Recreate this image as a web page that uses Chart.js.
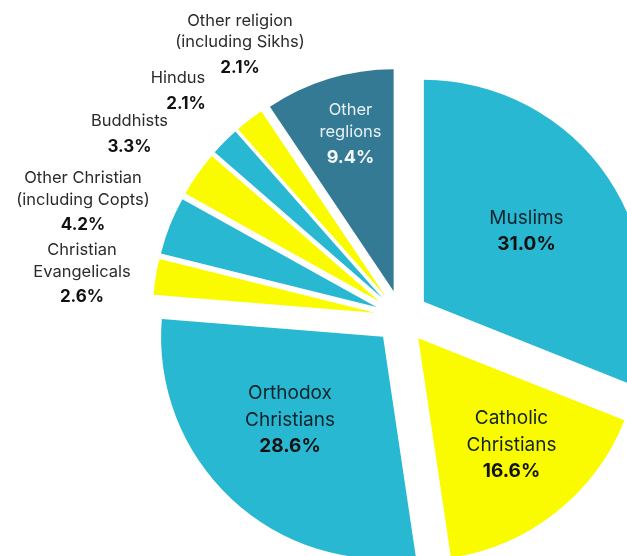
<!DOCTYPE html>
<html>
<head>
<meta charset="utf-8">
<script src="https://cdn.jsdelivr.net/npm/chart.js@4.4.1/dist/chart.umd.min.js"></script>
<style>
  html, body { margin: 0; padding: 0; background: #ffffff; }
  #frame { position: relative; width: 627px; height: 556px; overflow: hidden; }
  #pie { position: absolute; left: 0; top: 0; }
</style>
</head>
<body>
<div id="frame"><canvas id="pie" width="803" height="634"></canvas></div>
<script>
// Religious affiliation shares, clockwise from 12 o'clock
const categories = [
  'Muslims',
  'Catholic Christians',
  'Orthodox Christians',
  'Christian Evangelicals',
  'Other Christian (including Copts)',
  'Buddhists',
  'Hindus',
  'Other religion (including Sikhs)',
  'Other reglions'
];
const shares = [31.0, 16.6, 28.6, 2.6, 4.2, 3.3, 2.1, 2.1, 9.4];

// Text shown on each slice label, line by line
const labelLines = [
  ['Muslims'],
  ['Catholic', 'Christians'],
  ['Orthodox', 'Christians'],
  ['Christian', 'Evangelicals'],
  ['Other Christian', '(including Copts)'],
  ['Buddhists'],
  ['Hindus'],
  ['Other religion', '(including Sikhs)'],
  ['Other', 'reglions']
];

const CYAN = '#29b8d2';
const YELLOW = '#fbfb00';
const TEAL = '#357a95';
const sliceColors = [CYAN, YELLOW, CYAN, YELLOW, CYAN, YELLOW, CYAN, YELLOW, TEAL];

// Distance each wedge is pushed out from the centre
const EXPLODE = 27;

// Label placement relative to the pie centre: first baseline, then line gaps
const labelStyle = [
  { dx: 125,    dy: -92.7, inside: true },
  { dx: 110,    dy: 107,   inside: true },
  { dx: -111.5, dy: 82,    inside: true },
  { dx: -319.5, dy: -62 },
  { dx: -318.5, dy: -133.7 },
  { dx: -272,   dy: -191 },
  { dx: -223.5, dy: -233.7, pctDx: 8 },
  { dx: -161.5, dy: -291.5 },
  { dx: -51,    dy: -202,  small: true, light: true }
];

const FONT = 'Inter, "Liberation Sans", sans-serif';

const explodePlugin = {
  id: 'explodeSlices',
  afterDatasetUpdate(chart, args) {
    args.meta.data.forEach(arc => {
      const mid = (arc.startAngle + arc.endAngle) / 2;
      arc.x += Math.cos(mid) * EXPLODE;
      arc.y += Math.sin(mid) * EXPLODE;
    });
  }
};

const labelPlugin = {
  id: 'sliceLabels',
  afterDatasetsDraw(chart) {
    const ctx = chart.ctx;
    const area = chart.chartArea;
    const cx = (area.left + area.right) / 2;
    const cy = (area.top + area.bottom) / 2;
    ctx.save();
    ctx.textAlign = 'center';
    ctx.textBaseline = 'alphabetic';
    labelStyle.forEach((st, i) => {
      const x = cx + st.dx;
      let y = cy + st.dy;
      let nameSize, pctSize, nameGap, pctGap;
      if (st.inside) {
        nameSize = 19; pctSize = 19; nameGap = 27; pctGap = 26;
      } else if (st.small) {
        nameSize = 16.5; pctSize = 18; nameGap = 21.5; pctGap = 26.5;
      } else {
        nameSize = 16.5; pctSize = 17; nameGap = 21.5; pctGap = 25.5;
      }
      const nameColor = st.light ? '#e8f1f5' : (st.inside ? '#10232a' : '#2b2b2b');
      const pctColor = st.light ? '#f4f8fa' : '#111111';
      ctx.font = `400 ${nameSize}px ${FONT}`;
      ctx.fillStyle = nameColor;
      labelLines[i].forEach((line, k) => {
        if (k > 0) y += nameGap;
        ctx.fillText(line, x, y);
      });
      y += pctGap;
      ctx.font = `700 ${pctSize}px ${FONT}`;
      ctx.fillStyle = pctColor;
      ctx.fillText(shares[i].toFixed(1) + '%', x + (st.pctDx || 0), y);
    });
    ctx.restore();
  }
};

new Chart(document.getElementById('pie'), {
  type: 'pie',
  data: {
    labels: categories,
    datasets: [{
      data: shares,
      backgroundColor: sliceColors,
      borderWidth: 0,
      radius: 222
    }]
  },
  options: {
    responsive: false,
    animation: false,
    events: [],
    layout: { padding: 0 },
    plugins: {
      legend: { display: false },
      tooltip: { enabled: false }
    }
  },
  plugins: [explodePlugin, labelPlugin]
});
</script>
</body>
</html>
